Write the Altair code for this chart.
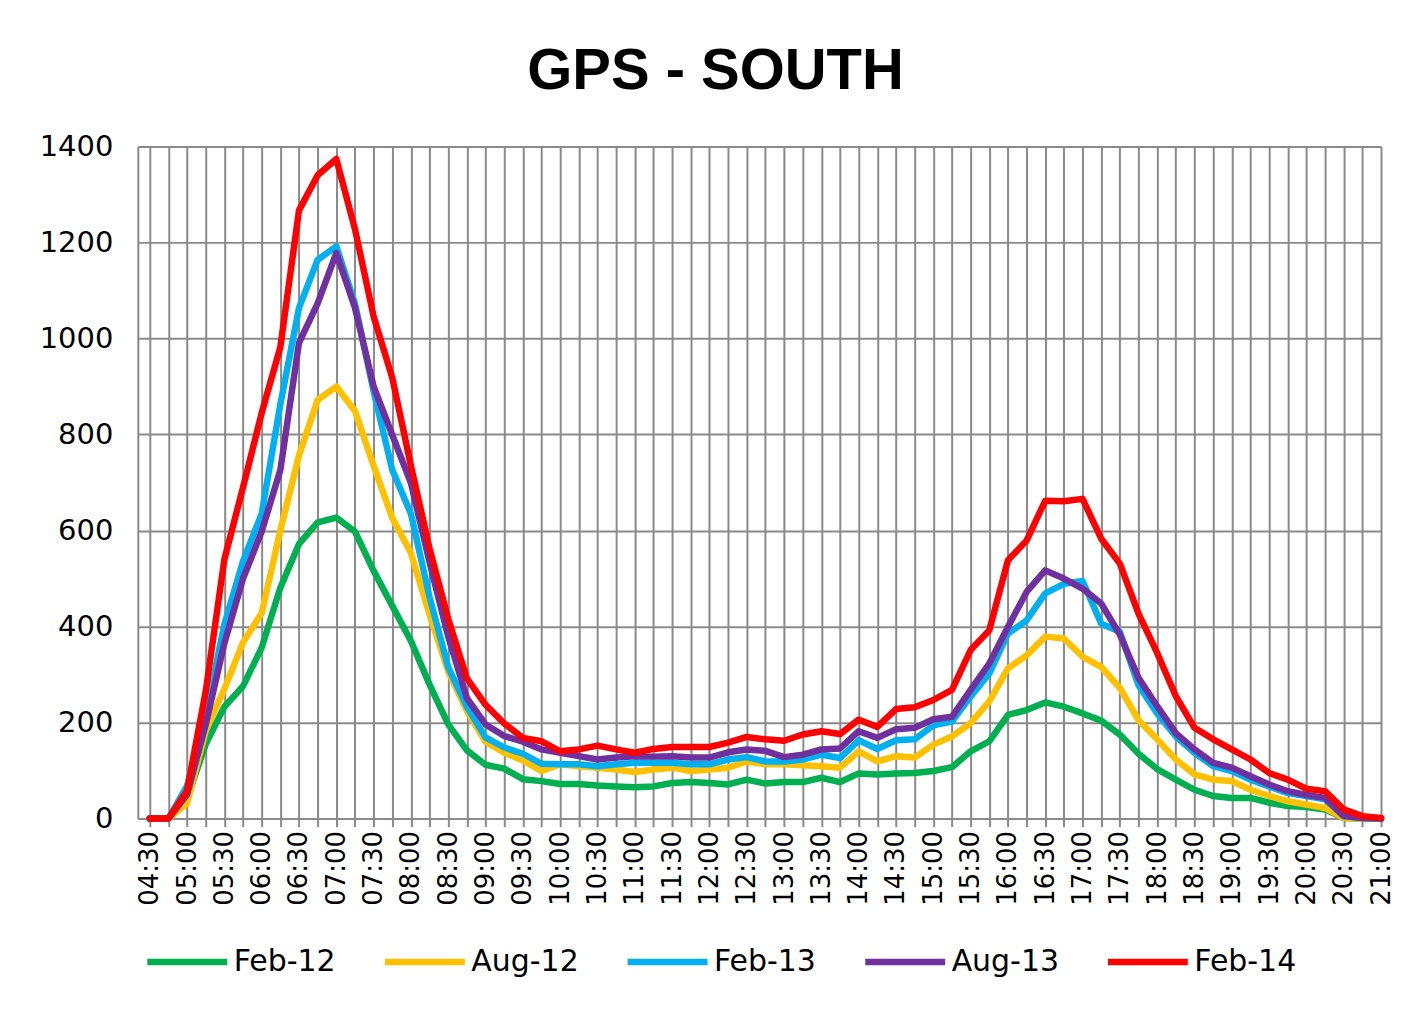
import altair as alt
import pandas as pd

# 15-minute categories from 04:30 to 21:00
TIMES = [f"{(270 + 15 * i) // 60:02d}:{(270 + 15 * i) % 60:02d}" for i in range(67)]
SERIES = ["Feb-12", "Aug-12", "Feb-13", "Aug-13", "Feb-14"]
COLORS = ["#00B050", "#FFC000", "#00B0F0", "#7030A0", "#FF0000"]

FEB_12 = [0, 0, 41, 155, 233, 276, 356, 481, 572, 617,
          627, 598, 516, 443, 370, 279, 196, 142, 112, 104,
          82, 78, 72, 72, 69, 67, 65, 67, 74, 76,
          74, 71, 81, 73, 76, 76, 85, 76, 94, 92,
          94, 95, 99, 107, 140, 161, 216, 226, 242, 233,
          219, 204, 175, 135, 103, 81, 60, 47, 43, 43,
          33, 26, 24, 19, 1, 0, 0]
AUG_12 = [0, 0, 32, 183, 270, 367, 428, 600, 757, 872,
          900, 849, 735, 626, 553, 425, 306, 224, 160, 137,
          121, 99, 113, 109, 106, 102, 97, 102, 106, 99,
          102, 106, 119, 113, 113, 111, 109, 106, 140, 119,
          130, 127, 154, 171, 199, 244, 313, 340, 379, 375,
          337, 316, 272, 205, 165, 123, 92, 81, 78, 60,
          47, 36, 29, 22, 1, 0, 0]
FEB_13 = [0, 0, 68, 215, 405, 536, 635, 863, 1064, 1164,
          1192, 1073, 890, 726, 635, 461, 315, 233, 169, 148,
          135, 114, 113, 113, 109, 113, 116, 116, 116, 113,
          113, 123, 128, 119, 119, 123, 133, 126, 163, 145,
          163, 165, 194, 202, 254, 302, 385, 413, 469, 489,
          495, 406, 389, 278, 219, 171, 137, 109, 99, 81,
          67, 53, 47, 40, 5, 1, 0]
AUG_13 = [0, 0, 50, 196, 365, 500, 598, 726, 991, 1073,
          1178, 1064, 900, 799, 699, 534, 379, 251, 196, 172,
          160, 144, 137, 130, 123, 127, 130, 129, 130, 127,
          127, 138, 144, 141, 128, 133, 144, 146, 182, 168,
          186, 189, 207, 212, 268, 323, 399, 472, 517, 500,
          479, 448, 383, 293, 234, 178, 144, 116, 106, 88,
          71, 57, 49, 43, 5, 1, 0]
FEB_14 = [0, 0, 58, 265, 540, 690, 845, 982, 1267, 1340,
          1374, 1228, 1046, 918, 735, 562, 416, 292, 237, 198,
          168, 161, 140, 144, 152, 144, 137, 145, 149, 149,
          149, 158, 170, 165, 162, 175, 182, 176, 206, 191,
          228, 232, 247, 268, 351, 392, 538, 579, 662, 661,
          666, 583, 531, 427, 345, 255, 189, 165, 144, 123,
          95, 81, 62, 57, 19, 5, 1]

Y_TICKS = [0, 200, 400, 600, 800, 1000, 1200, 1400]

rows = []
for name, vals in zip(SERIES, [FEB_12, AUG_12, FEB_13, AUG_13, FEB_14]):
    for t, v in zip(TIMES, vals):
        h, m = t.split(":")
        rows.append({"series": name, "time": t,
                     "minutes": int(h) * 60 + int(m) - 270, "value": v})
df = pd.DataFrame(rows)

x_ticks = sorted(set(df["minutes"]))

label_expr = (
    "datum.value % 30 == 0 ? "
    "(floor((datum.value + 270) / 60) < 10 ? '0' : '') + floor((datum.value + 270) / 60) + ':' + "
    "(((datum.value + 270) % 60) < 10 ? '0' : '') + ((datum.value + 270) % 60) : ''"
)

GRID = "#8a8a8a"

chart = alt.Chart(df).mark_line(
    strokeWidth=6.5, strokeJoin="round", strokeCap="round"
).encode(
    x=alt.X(
        "minutes:Q",
        scale=alt.Scale(domain=[-9.6, 990], nice=False, zero=False),
        axis=alt.Axis(
            values=x_ticks, labelExpr=label_expr, labelAngle=270,
            labelAlign="right", labelBaseline="middle", labelOverlap=False,
            labelFont="DejaVu Sans", labelFontSize=26, labelColor="black",
            labelPadding=4, tickSize=8, tickColor=GRID, tickWidth=2,
            gridColor=GRID, gridWidth=2, domainColor=GRID, domainWidth=2,
            title=None,
        ),
    ),
    y=alt.Y(
        "value:Q",
        scale=alt.Scale(domain=[0, 1400], nice=False),
        axis=alt.Axis(
            values=Y_TICKS, format="d", labelFont="DejaVu Sans", labelFontSize=29,
            labelColor="black", labelPadding=25, ticks=False,
            gridColor=GRID, gridWidth=2, domainColor=GRID, domainWidth=2,
            title=None,
        ),
    ),
    color=alt.Color(
        "series:N",
        sort=SERIES,
        scale=alt.Scale(domain=SERIES, range=COLORS),
        legend=alt.Legend(
            orient="none", legendX=6, legendY=773, direction="horizontal",
            symbolType="stroke", symbolSize=6400, symbolStrokeWidth=6.5,
            labelFont="DejaVu Sans", labelFontSize=30, labelColor="black",
            labelOffset=3, columnPadding=35, title=None,
        ),
    ),
).properties(
    width=1245,
    height=673,
    title=alt.Title(
        "GPS - SOUTH", font="Liberation Sans", fontSize=58, fontWeight="bold",
        color="black", anchor="middle", frame="group", baseline="alphabetic",
        offset=56, dx=-44, dy=70,
    ),
    autosize=alt.AutoSizeParams(type="none"),
    padding={"left": 130, "top": 138, "right": 18, "bottom": 180},
).configure_view(
    stroke=GRID, strokeWidth=2
).configure(background="white")

chart.save("out.html", embed_options={"renderer": "svg", "actions": False})
